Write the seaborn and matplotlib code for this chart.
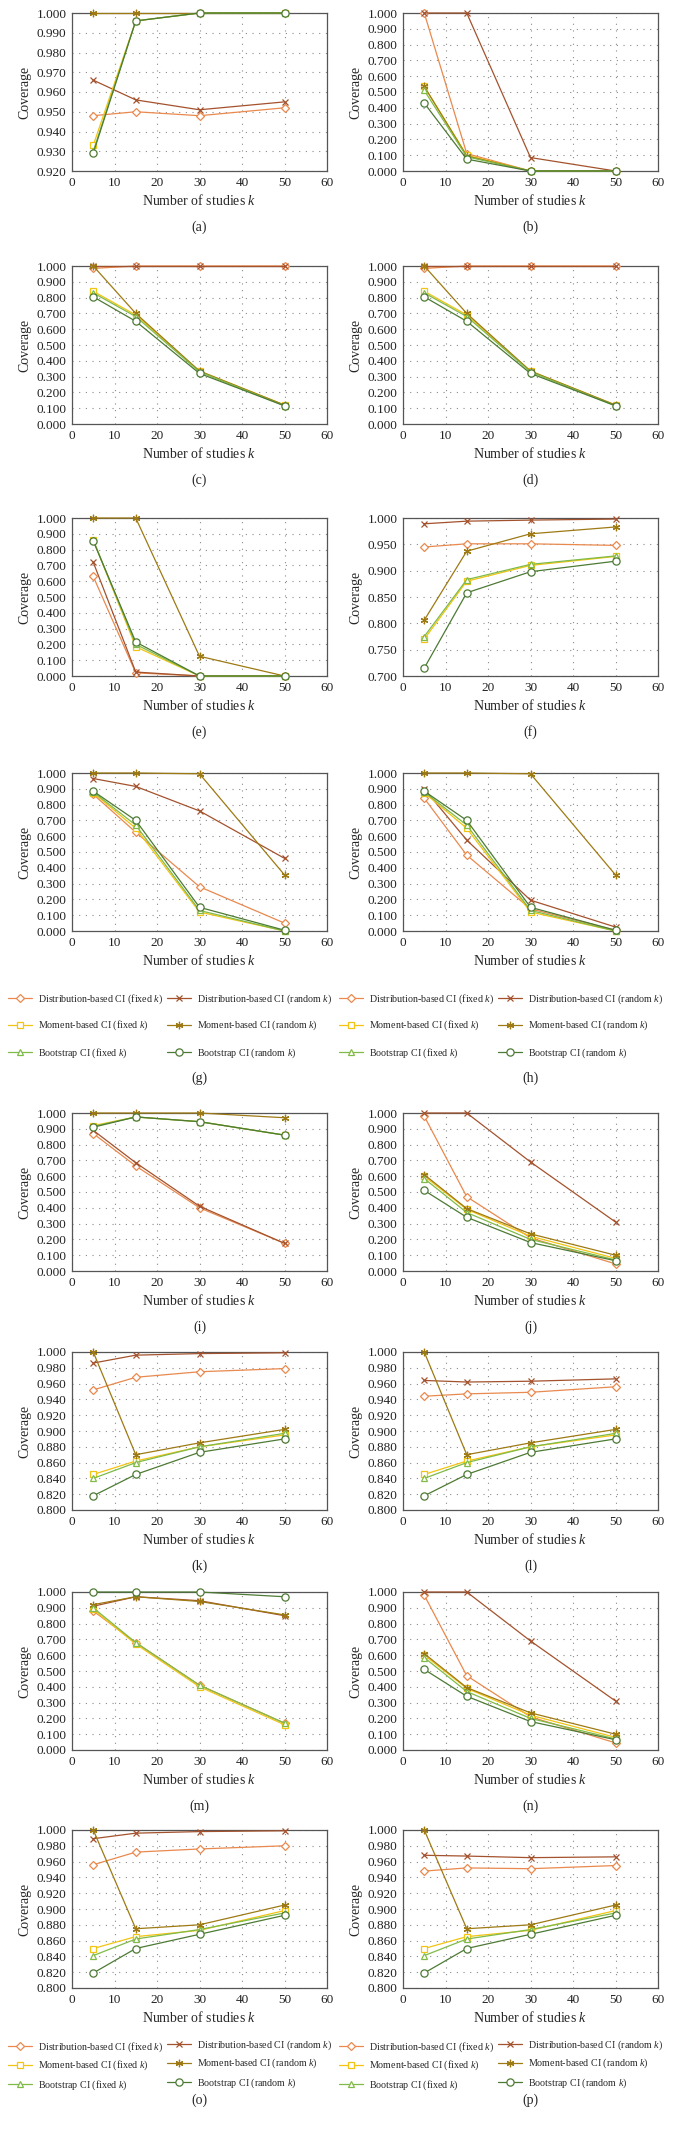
import matplotlib
matplotlib.use("Agg")
import matplotlib.pyplot as plt
import seaborn as sns

# x values shared by every panel
k_values = [5, 15, 30, 50]

series_names = [
    "Distribution-based CI (fixed $k$)",
    "Distribution-based CI (random $k$)",
    "Moment-based CI (fixed $k$)",
    "Moment-based CI (random $k$)",
    "Bootstrap CI (fixed $k$)",
    "Bootstrap CI (random $k$)",
]
series_colors = ["#E9894E", "#A4522D", "#F2C413", "#9E7A14", "#80BB48", "#4D7A34"]
series_markers = ["D", "x", "s", (6, 2, 0), "^", "o"]
series_msize = [3.6, 5.0, 5.0, 5.4, 4.8, 5.2]

# coverage per panel, series order as series_names
panel_a = [[0.948, 0.950, 0.948, 0.952], [0.966, 0.956, 0.951, 0.955],
           [0.933, 0.996, 1.000, 1.000], [1.000, 1.000, 1.000, 1.000],
           [0.930, 0.996, 1.000, 1.000], [0.929, 0.996, 1.000, 1.000]]
panel_b = [[1.000, 0.110, 0.000, 0.000], [1.000, 1.000, 0.085, 0.000],
           [0.535, 0.100, 0.000, 0.000], [0.535, 0.095, 0.000, 0.000],
           [0.510, 0.090, 0.000, 0.000], [0.430, 0.075, 0.000, 0.000]]
panel_c = [[0.985, 1.000, 1.000, 1.000], [1.000, 1.000, 1.000, 1.000],
           [0.840, 0.690, 0.335, 0.120], [1.000, 0.700, 0.335, 0.120],
           [0.830, 0.680, 0.330, 0.115], [0.805, 0.650, 0.320, 0.115]]
panel_d = [[0.985, 1.000, 1.000, 1.000], [1.000, 1.000, 1.000, 1.000],
           [0.840, 0.690, 0.335, 0.120], [1.000, 0.700, 0.335, 0.120],
           [0.830, 0.680, 0.330, 0.115], [0.805, 0.650, 0.320, 0.115]]
panel_e = [[0.630, 0.020, 0.000, 0.000], [0.720, 0.025, 0.000, 0.000],
           [0.860, 0.185, 0.000, 0.000], [1.000, 1.000, 0.125, 0.000],
           [0.860, 0.200, 0.000, 0.000], [0.855, 0.215, 0.000, 0.000]]
panel_f = [[0.945, 0.951, 0.951, 0.948], [0.989, 0.994, 0.996, 0.998],
           [0.770, 0.880, 0.910, 0.927], [0.806, 0.937, 0.970, 0.983],
           [0.775, 0.883, 0.912, 0.928], [0.715, 0.858, 0.898, 0.918]]
panel_g = [[0.865, 0.625, 0.280, 0.050], [0.965, 0.915, 0.760, 0.460],
           [0.875, 0.650, 0.120, 0.000], [1.000, 1.000, 0.995, 0.355],
           [0.880, 0.670, 0.130, 0.000], [0.885, 0.700, 0.150, 0.005]]
panel_h = [[0.840, 0.480, 0.140, 0.005], [0.900, 0.575, 0.195, 0.025],
           [0.875, 0.650, 0.120, 0.000], [1.000, 1.000, 0.995, 0.355],
           [0.880, 0.670, 0.130, 0.000], [0.885, 0.700, 0.150, 0.005]]
panel_i = [[0.870, 0.665, 0.400, 0.175], [0.890, 0.685, 0.410, 0.175],
           [0.920, 0.975, 0.945, 0.860], [1.000, 1.000, 1.000, 0.970],
           [0.915, 0.975, 0.945, 0.860], [0.910, 0.975, 0.945, 0.860]]
panel_j = [[0.980, 0.470, 0.210, 0.045], [1.000, 1.000, 0.690, 0.310],
           [0.600, 0.390, 0.220, 0.080], [0.610, 0.395, 0.235, 0.100],
           [0.585, 0.370, 0.200, 0.070], [0.510, 0.340, 0.180, 0.065]]
panel_k = [[0.952, 0.968, 0.975, 0.979], [0.986, 0.996, 0.998, 0.999],
           [0.845, 0.862, 0.880, 0.895], [1.000, 0.870, 0.885, 0.902],
           [0.840, 0.860, 0.880, 0.897], [0.818, 0.845, 0.873, 0.890]]
panel_l = [[0.944, 0.947, 0.949, 0.956], [0.964, 0.962, 0.963, 0.966],
           [0.845, 0.862, 0.880, 0.895], [1.000, 0.870, 0.885, 0.902],
           [0.840, 0.860, 0.880, 0.897], [0.818, 0.845, 0.873, 0.890]]
panel_m = [[0.880, 0.680, 0.410, 0.170], [0.910, 0.970, 0.945, 0.850],
           [0.890, 0.670, 0.400, 0.160], [0.920, 0.970, 0.940, 0.855],
           [0.900, 0.680, 0.410, 0.170], [1.000, 1.000, 1.000, 0.970]]
panel_n = [[0.980, 0.470, 0.210, 0.045], [1.000, 1.000, 0.690, 0.310],
           [0.600, 0.390, 0.220, 0.080], [0.610, 0.395, 0.235, 0.100],
           [0.585, 0.370, 0.200, 0.070], [0.510, 0.340, 0.180, 0.065]]
panel_o = [[0.956, 0.972, 0.976, 0.980], [0.989, 0.996, 0.998, 0.999],
           [0.850, 0.865, 0.873, 0.898], [1.000, 0.875, 0.880, 0.905],
           [0.841, 0.862, 0.874, 0.895], [0.819, 0.850, 0.868, 0.892]]
panel_p = [[0.948, 0.952, 0.951, 0.955], [0.968, 0.967, 0.965, 0.966],
           [0.850, 0.865, 0.873, 0.898], [1.000, 0.875, 0.880, 0.905],
           [0.841, 0.862, 0.874, 0.895], [0.819, 0.850, 0.868, 0.892]]

panel_data = [panel_a, panel_b, panel_c, panel_d, panel_e, panel_f, panel_g, panel_h,
              panel_i, panel_j, panel_k, panel_l, panel_m, panel_n, panel_o, panel_p]
panel_letters = list("abcdefghijklmnop")
# y axis (min, max, step)
panel_ylims = [(0.92, 1.0, 0.01), (0, 1, 0.1), (0, 1, 0.1), (0, 1, 0.1),
               (0, 1, 0.1), (0.7, 1.0, 0.05), (0, 1, 0.1), (0, 1, 0.1),
               (0, 1, 0.1), (0, 1, 0.1), (0.8, 1.0, 0.02), (0.8, 1.0, 0.02),
               (0, 1, 0.1), (0, 1, 0.1), (0.8, 1.0, 0.02), (0.8, 1.0, 0.02)]

sns.set_style("white")
plt.rcParams["font.family"] = ["Liberation Serif", "DejaVu Serif"]
plt.rcParams["mathtext.fontset"] = "custom"
plt.rcParams["mathtext.it"] = "Liberation Serif:italic"
plt.rcParams["mathtext.rm"] = "Liberation Serif"

W, H = 680, 2132
fig = plt.figure(figsize=(W / 100, H / 100), dpi=100)

row_tops = [13, 266, 518, 773, 1113, 1352, 1592, 1830]
col_lefts = [72, 403]
ax_w, ax_h = 255, 158
label_y = [t + ax_h + 56 for t in row_tops]
label_y[3] = 1078
label_y[7] = 2100

for idx, data in enumerate(panel_data):
    row, col = divmod(idx, 2)
    left, top = col_lefts[col], row_tops[row]
    ax = fig.add_axes([left / W, 1 - (top + ax_h) / H, ax_w / W, ax_h / H])
    for s, vals in enumerate(data):
        c = series_colors[s]
        sns.lineplot(x=k_values, y=vals, ax=ax, color=c, marker=series_markers[s],
                     markersize=series_msize[s], mec=c, mfc="white", mew=0.9,
                     lw=0.9, legend=False, clip_on=False, zorder=3 + s)
    y0, y1, step = panel_ylims[idx]
    n = int(round((y1 - y0) / step))
    ax.set_ylim(y0, y1)
    ax.set_yticks([y0 + i * step for i in range(n + 1)])
    ax.yaxis.set_major_formatter(matplotlib.ticker.FormatStrFormatter("%.3f"))
    ax.set_xlim(0, 60)
    ax.set_xticks(range(0, 61, 10))
    ax.tick_params(length=0, labelsize=9.5, pad=4, colors="#222222")
    ax.grid(True, linestyle=(0, (1, 5)), color="#8a8a8a", lw=0.8)
    for sp in ax.spines.values():
        sp.set_color("#555555")
        sp.set_linewidth(0.9)
    ax.set_ylabel("Coverage", fontsize=10, labelpad=4)
    ax.set_xlabel("Number of studies $k$", fontsize=10, labelpad=3)
    fig.text((left + ax_w / 2) / W, 1 - label_y[row] / H, f"({panel_letters[idx]})",
             ha="center", va="center", fontsize=10)

    if row in (3, 7):
        # one legend per column so each column starts where the reference has it
        lines = ax.get_lines()[:6]
        leg_top = 992 if row == 3 else 2040
        spacing = 1.35 if row == 3 else 0.55
        shift = 0 if row == 3 else 2
        for j, (xoff, members) in enumerate([(8, [0, 2, 4]), (167, [1, 3, 5])]):
            fig.legend([lines[i] for i in members], [series_names[i] for i in members],
                       loc="upper left", frameon=False, fontsize=7.2,
                       bbox_to_anchor=((left - 72 + xoff) / W,
                                       1 - (leg_top - j * shift) / H),
                       borderpad=0, borderaxespad=0, handlelength=2.4,
                       handletextpad=0.6, labelspacing=spacing)

fig.savefig("out.png", dpi=100)
